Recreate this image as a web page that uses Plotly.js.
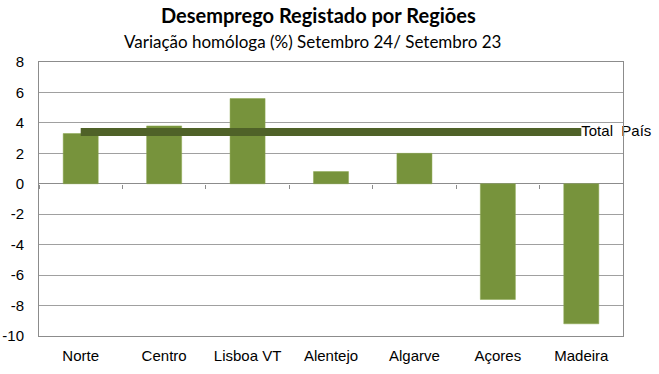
<!DOCTYPE html>
<html><head><meta charset="utf-8">
<script src="https://cdn.plot.ly/plotly-3.0.1.min.js"></script>
<style>html,body{margin:0;padding:0;background:#fff}#chart{width:659px;height:374px}</style>
</head><body><div id="chart"></div>
<script>
const regions = ["Norte","Centro","Lisboa VT","Alentejo","Algarve","Açores","Madeira"];
const variation = [3.3, 3.8, 5.6, 0.8, 2.0, -7.6, -9.2];
const totalPais = [3.4, 3.4, 3.4, 3.4, 3.4, 3.4, 3.4];
const totalLabel = ["", "", "", "", "", "", "Total  País"];
const yTicks = [-10,-8,-6,-4,-2,0,2,4,6,8];
const yTickText = ["-10","-8","-6","-4","-2","0","2","4","6","8"];
const titleText = "Desemprego Registado por Regiões";
const subtitleText = "Variação homóloga (%) Setembro 24/ Setembro 23";

const data = [
  {type:"bar", x:regions, y:variation, marker:{color:"#77933c", line:{color:"#8aa64e", width:0.5}},
   width:0.42, hoverinfo:"skip", showlegend:false},
  {type:"scatter", mode:"lines+text", x:regions, y:totalPais, text:totalLabel,
   textposition:"middle right", textfont:{family:"Liberation Sans, Arial", size:15, color:"#000"},
   line:{color:"#4f6228", width:8}, showlegend:false, cliponaxis:false},
  {type:"scatter", mode:"markers", x:regions, y:variation, xaxis:"x2", marker:{opacity:0}, hoverinfo:"skip", showlegend:false}
];

const layout = {
  width:659, height:374,
  margin:{l:39, r:36, t:62, b:38},
  paper_bgcolor:"#fff", plot_bgcolor:"#fff",
  font:{family:"Liberation Sans, Arial", size:12, color:"#000"},
  annotations:[
    {text:"<b>"+titleText+"</b>", xref:"paper", yref:"paper", x:0.478, y:1.1715, xanchor:"center", yanchor:"middle",
     showarrow:false, font:{family:"Lato, Noto Sans", size:20, color:"#000"}},
    {text:subtitleText, xref:"paper", yref:"paper", x:0.469, y:1.073, xanchor:"center", yanchor:"middle",
     showarrow:false, font:{family:"Lato, Noto Sans", size:17, color:"#000"}}
  ],
  xaxis:{type:"category", showgrid:false, showline:true, linecolor:"#8c8c8c", mirror:true, ticks:"",
    tickfont:{size:15}, range:[-0.5,6.5], fixedrange:true, ticklabelstandoff:6},
  xaxis2:{type:"category", overlaying:"x", anchor:"free", position:10/18, showgrid:false, showline:false,
    showticklabels:false, ticks:"outside", tickson:"boundaries", ticklen:4, tickcolor:"#8c8c8c", range:[-0.5,6.5]},
  yaxis:{range:[-10,8], tickvals:yTicks, ticktext:yTickText, showgrid:true, gridcolor:"#a0a0a0", gridwidth:1,
    zeroline:true, zerolinecolor:"#8c8c8c", zerolinewidth:1, showline:true, linecolor:"#8c8c8c", mirror:true,
    tickfont:{size:15}, ticks:"", ticklen:0, ticklabelstandoff:11},
  bargap:0.58
};
Plotly.newPlot("chart", data, layout, {displayModeBar:false, staticPlot:true});
</script></body></html>
